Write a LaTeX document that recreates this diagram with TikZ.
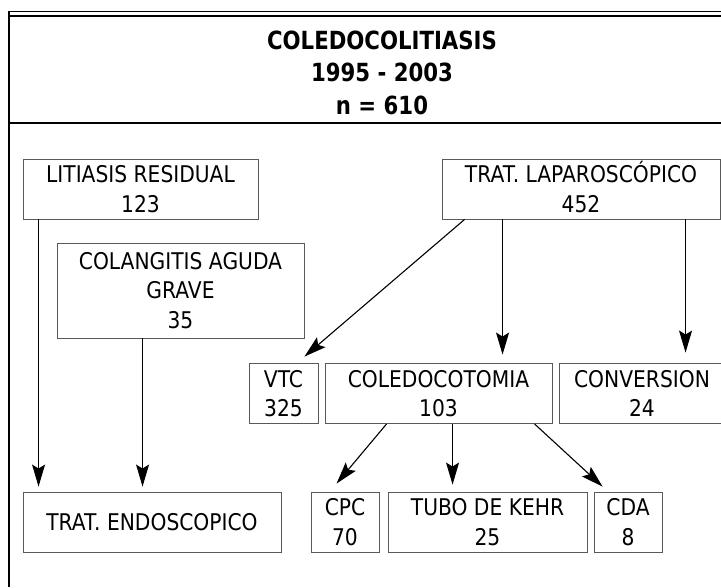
\documentclass[tikz,border=0pt]{standalone}
\usepackage{fontspec}
\setmainfont{DejaVu Sans}[FakeStretch=0.88]
\newfontfamily\titlefont{DejaVu Sans}[FakeStretch=0.85]
\usetikzlibrary{arrows.meta}
\begin{document}
\begin{tikzpicture}[x=1pt,y=-1pt,
  box/.style={draw=black!65,line width=0.9pt,inner sep=0pt,align=center,
    font=\fontsize{23}{29.5}\selectfont},
  arr/.style={-{Stealth[length=22pt,width=13pt,inset=4pt]},line width=1.1pt}]
\useasboundingbox (0,0) rectangle (721,587);
\fill[white] (0,0) rectangle (721,587);
% frame
\draw[line width=1pt] (9,11) -- (721,11);
\draw[line width=2pt] (9,15.5) -- (721,15.5);
\draw[line width=2pt] (9,123) -- (721,123);
\draw[line width=1.2pt] (9,10.5) -- (9,587);
% title
\node[font=\titlefont\bfseries\fontsize{25}{32.5}\selectfont,align=center,inner sep=0pt] (title) at (382,72.5)
  {COLEDOCOLITIASIS\\1995 - 2003\\n = 610};
% boxes
\node[box,minimum width=235pt,minimum height=60pt] (lit) at (140.5,189) {LITIASIS RESIDUAL\\123};
\node[box,minimum width=247pt,minimum height=95pt] (col) at (180.5,290.5) {COLANGITIS AGUDA\\GRAVE\\35};
\node[box,minimum width=278pt,minimum height=60pt] (lap) at (581,189) {TRAT. LAPAROSC\smash{Ó}PICO\\452};
\node[box,minimum width=69pt,minimum height=60pt] (vtc) at (283.5,393.5) {VTC\\325};
\node[box,minimum width=227pt,minimum height=60pt] (cdt) at (438.5,393.5) {COLEDOCOTOMIA\\103};
\node[box,minimum width=166pt,minimum height=60pt] (conv) at (642,393.5) {CONVERSION\\24};
\node[box,minimum width=258pt,minimum height=60pt] (endo) at (152,522) {TRAT. ENDOSCOPICO};
\node[box,minimum width=68pt,minimum height=60pt] (cpc) at (345,522) {CPC\\70};
\node[box,minimum width=199pt,minimum height=60pt] (tubo) at (487.5,522) {TUBO DE KEHR\\25};
\node[box,minimum width=68pt,minimum height=60pt] (cda) at (628,522) {CDA\\8};
% arrows
\draw[arr] ([xshift=16pt]lit.south west) -- ([xshift=16pt,yshift=5pt]endo.north west);
\draw[arr] ([xshift=86pt]col.south west) -- ([xshift=120pt,yshift=5pt]endo.north west);
\draw[arr] ([xshift=23pt]lap.south west) -- ([shift={(-14pt,6.5pt)}]vtc.north east);
\draw[arr] ([xshift=61pt]lap.south west) -- ([xshift=178pt,yshift=8.5pt]cdt.north west);
\draw[arr] ([xshift=244pt]lap.south west) -- ([xshift=127pt,yshift=10.5pt]conv.north west);
\draw[arr] ([xshift=62pt]cdt.south west) -- ([shift={(26pt,8pt)}]cpc.north west);
\draw[arr] ([xshift=128pt]cdt.south west) -- ([xshift=65pt,yshift=7pt]tubo.north west);
\draw[arr] ([xshift=210pt]cdt.south west) -- ([shift={(9pt,5pt)}]cda.north west);
\end{tikzpicture}
\end{document}
